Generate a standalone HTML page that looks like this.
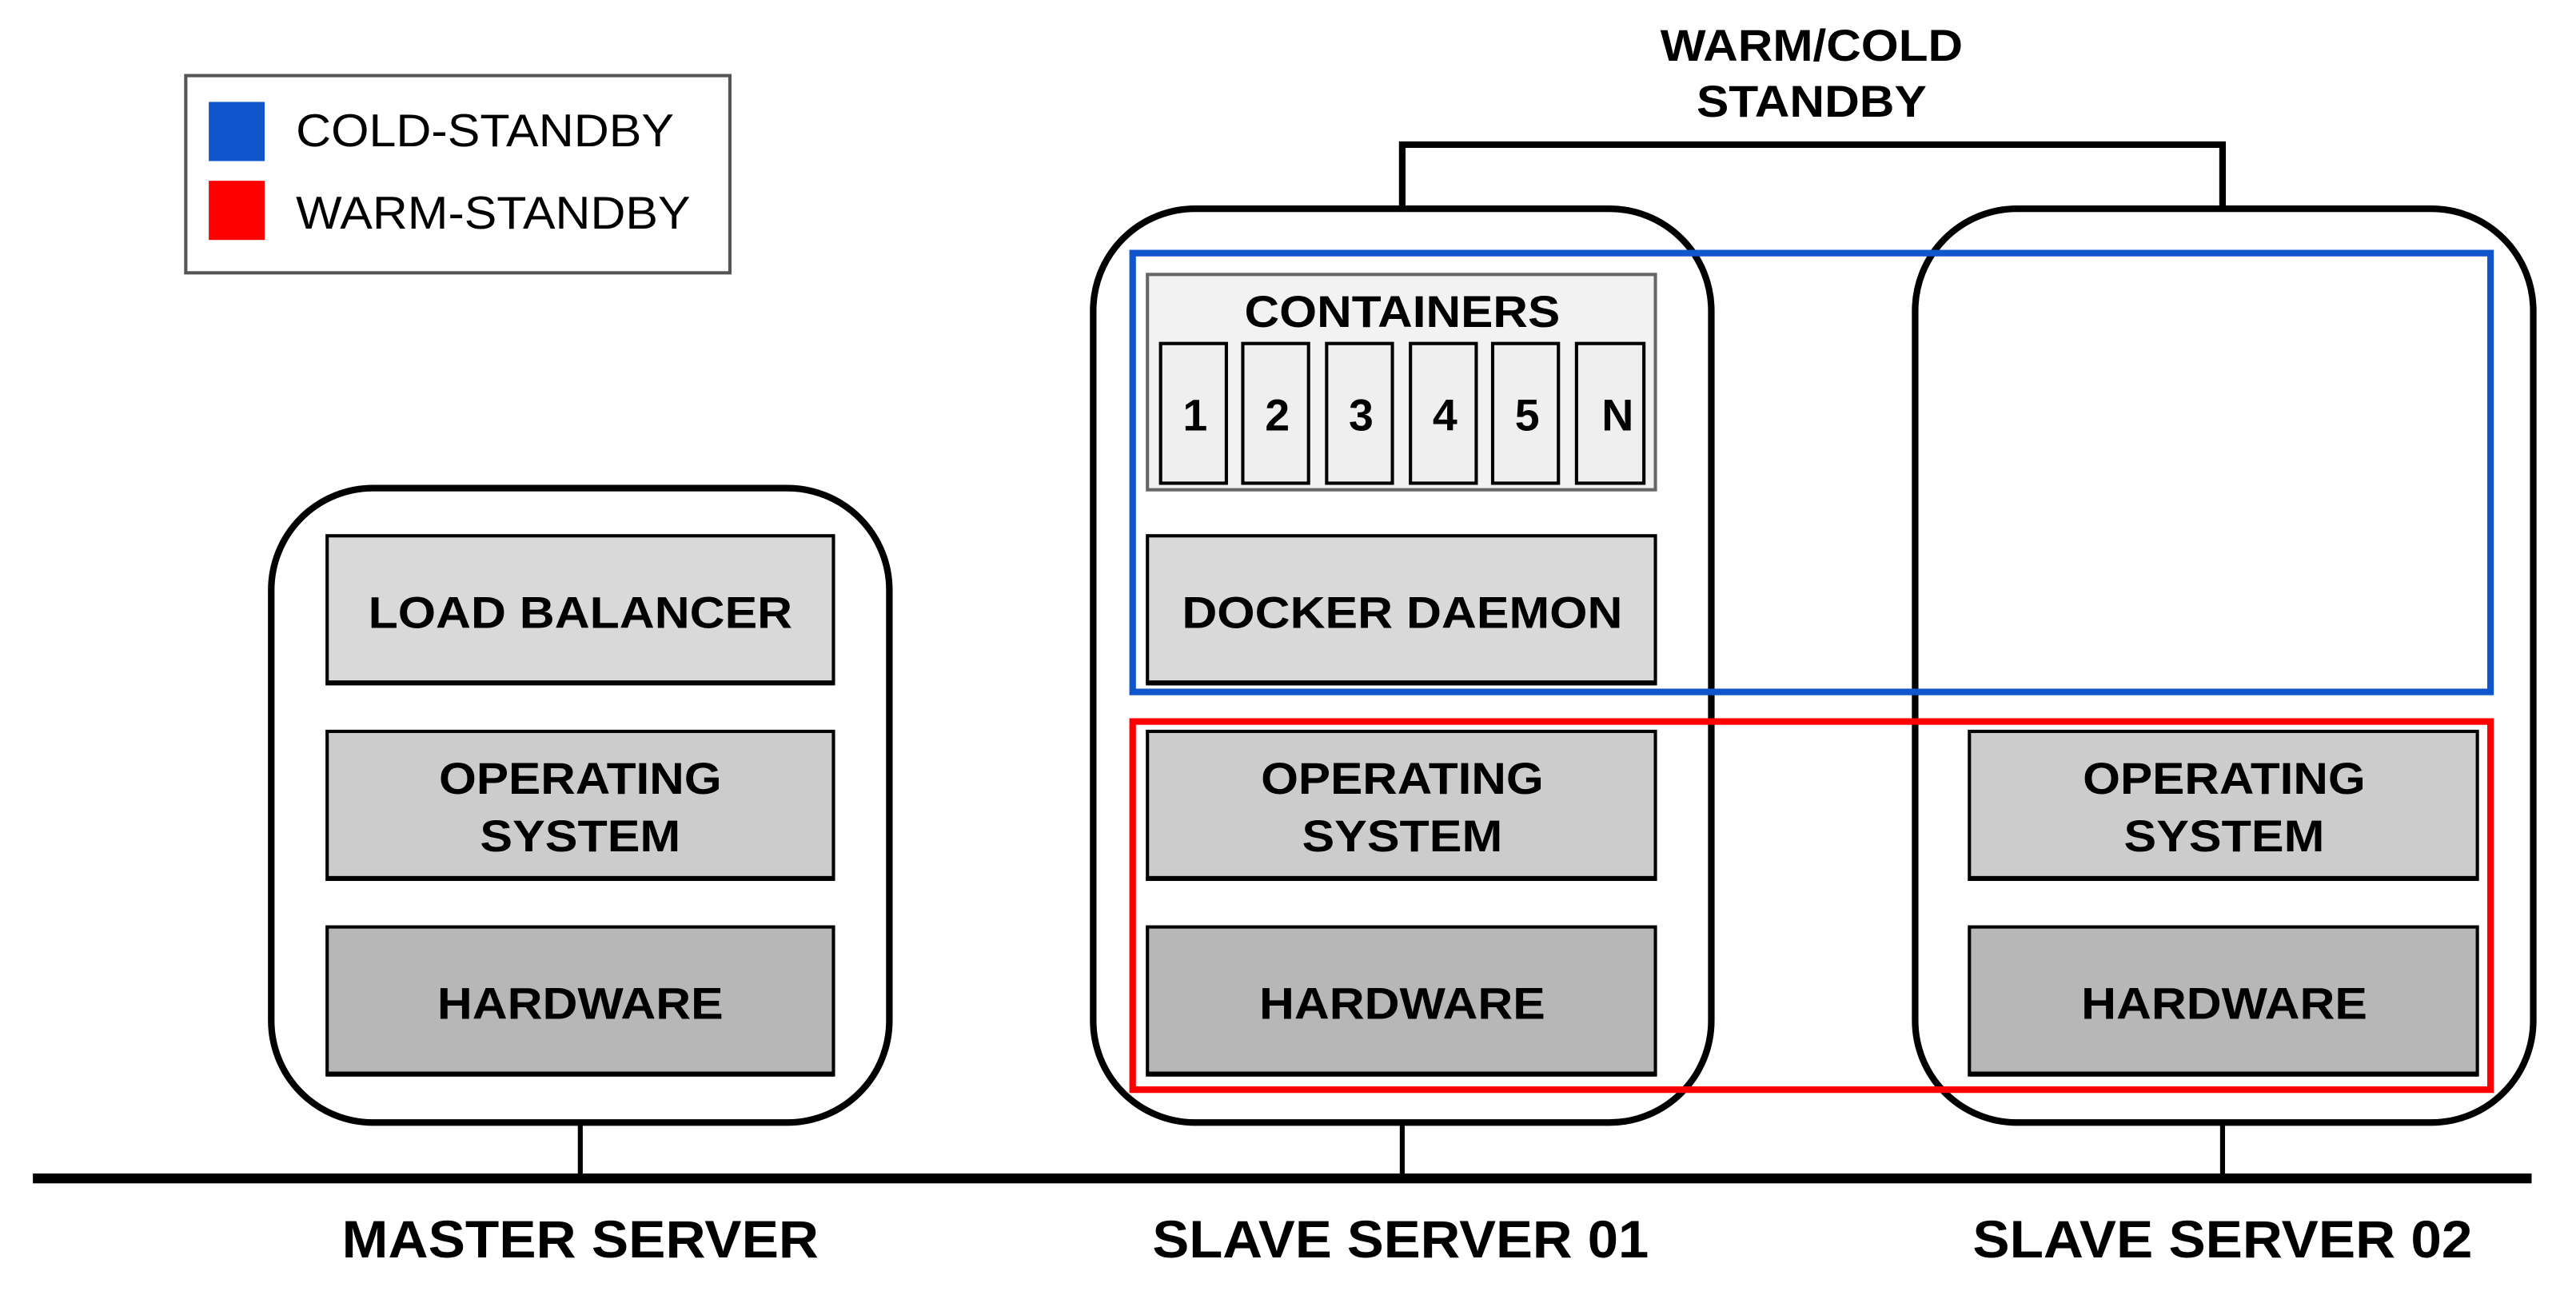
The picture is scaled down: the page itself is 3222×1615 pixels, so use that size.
<!DOCTYPE html>
<html><head><meta charset="utf-8"><style>html,body{margin:0;padding:0;background:#fff}svg{display:block}</style></head>
<body>
<svg width="3222" height="1615" viewBox="0 0 1567 785.5" preserveAspectRatio="none" xmlns="http://www.w3.org/2000/svg" font-family="Liberation Sans, Arial, sans-serif">
<rect width="1567" height="786" fill="#fff"/>
<!-- legend -->
<rect x="113" y="46" width="331" height="120" fill="#fff" stroke="#555" stroke-width="2"/>
<rect x="127" y="62" width="34" height="36" fill="#1155cc"/>
<rect x="127" y="110" width="34" height="36" fill="#ff0000"/>
<text x="180" y="89" font-size="28" textLength="230" lengthAdjust="spacingAndGlyphs">COLD-STANDBY</text>
<text x="180" y="139" font-size="28" textLength="240" lengthAdjust="spacingAndGlyphs">WARM-STANDBY</text>
<!-- bracket -->
<path d="M853 127 V88 H1352 V127" fill="none" stroke="#000" stroke-width="4"/>
<g font-weight="bold" font-size="27" text-anchor="middle">
<text x="1102" y="37" textLength="184" lengthAdjust="spacingAndGlyphs">WARM/COLD</text>
<text x="1102" y="71" textLength="140" lengthAdjust="spacingAndGlyphs">STANDBY</text>
</g>
<!-- servers -->
<g fill="#fff" stroke="#000" stroke-width="4">
<rect x="165" y="297" width="376" height="386" rx="62" ry="62"/>
<rect x="665" y="127" width="376" height="556" rx="62" ry="62"/>
<rect x="1165" y="127" width="376" height="556" rx="62" ry="62"/>
</g>
<!-- stems & bus -->
<g stroke="#000" stroke-width="3">
<line x1="353" y1="683" x2="353" y2="717"/>
<line x1="853" y1="683" x2="853" y2="717"/>
<line x1="1352" y1="683" x2="1352" y2="717"/>
</g>
<rect x="20" y="714" width="1520" height="6" fill="#000"/>
<!-- boxes -->
<g stroke="#000" stroke-width="2">
<rect x="199" y="326" width="308" height="90" fill="#d9d9d9"/>
<rect x="199" y="445" width="308" height="90" fill="#cccccc"/>
<rect x="199" y="564" width="308" height="90" fill="#b7b7b7"/>
<rect x="698" y="326" width="309" height="90" fill="#d9d9d9"/>
<rect x="698" y="445" width="309" height="90" fill="#cccccc"/>
<rect x="698" y="564" width="309" height="90" fill="#b7b7b7"/>
<rect x="1198" y="445" width="309" height="90" fill="#cccccc"/>
<rect x="1198" y="564" width="309" height="90" fill="#b7b7b7"/>
</g>
<g fill="#000">
<rect x="199" y="414" width="308" height="3"/><rect x="199" y="533" width="308" height="3"/><rect x="199" y="652" width="308" height="3"/>
<rect x="698" y="414" width="309" height="3"/><rect x="698" y="533" width="309" height="3"/><rect x="698" y="652" width="309" height="3"/>
<rect x="1198" y="533" width="309" height="3"/><rect x="1198" y="652" width="309" height="3"/>
</g>
<!-- containers -->
<rect x="698" y="167" width="309" height="131" fill="#f2f2f2" stroke="#666" stroke-width="2"/>
<g fill="#efefef" stroke="#000" stroke-width="2">
<rect x="706" y="209" width="40" height="85"/>
<rect x="756" y="209" width="40" height="85"/>
<rect x="807" y="209" width="40" height="85"/>
<rect x="858" y="209" width="40" height="85"/>
<rect x="908" y="209" width="40" height="85"/>
<rect x="959" y="209" width="41" height="85"/>
</g>
<g font-weight="bold" font-size="27" text-anchor="middle">
<text x="853" y="199" textLength="192" lengthAdjust="spacingAndGlyphs">CONTAINERS</text>
<text x="727" y="262">1</text><text x="777" y="262">2</text><text x="828" y="262">3</text>
<text x="879" y="262">4</text><text x="929" y="262">5</text><text x="984" y="262">N</text>
<text x="353" y="382" textLength="258" lengthAdjust="spacingAndGlyphs">LOAD BALANCER</text>
<text x="353" y="483" textLength="172" lengthAdjust="spacingAndGlyphs">OPERATING</text>
<text x="353" y="518" textLength="122" lengthAdjust="spacingAndGlyphs">SYSTEM</text>
<text x="353" y="620" textLength="174" lengthAdjust="spacingAndGlyphs">HARDWARE</text>
<text x="853" y="382" textLength="268" lengthAdjust="spacingAndGlyphs">DOCKER DAEMON</text>
<text x="853" y="483" textLength="172" lengthAdjust="spacingAndGlyphs">OPERATING</text>
<text x="853" y="518" textLength="122" lengthAdjust="spacingAndGlyphs">SYSTEM</text>
<text x="853" y="620" textLength="174" lengthAdjust="spacingAndGlyphs">HARDWARE</text>
<text x="1353" y="483" textLength="172" lengthAdjust="spacingAndGlyphs">OPERATING</text>
<text x="1353" y="518" textLength="122" lengthAdjust="spacingAndGlyphs">SYSTEM</text>
<text x="1353" y="620" textLength="174" lengthAdjust="spacingAndGlyphs">HARDWARE</text>
</g>
<!-- standby outlines -->
<rect x="689" y="154" width="826" height="267" fill="none" stroke="#1155cc" stroke-width="4"/>
<rect x="689" y="439" width="826" height="224" fill="none" stroke="#ff0000" stroke-width="4"/>
<!-- labels -->
<g font-weight="bold" font-size="32" text-anchor="middle">
<text x="353" y="765" textLength="290" lengthAdjust="spacingAndGlyphs">MASTER SERVER</text>
<text x="852" y="765" textLength="302" lengthAdjust="spacingAndGlyphs">SLAVE SERVER 01</text>
<text x="1352" y="765" textLength="304" lengthAdjust="spacingAndGlyphs">SLAVE SERVER 02</text>
</g>
</svg>
</body></html>
